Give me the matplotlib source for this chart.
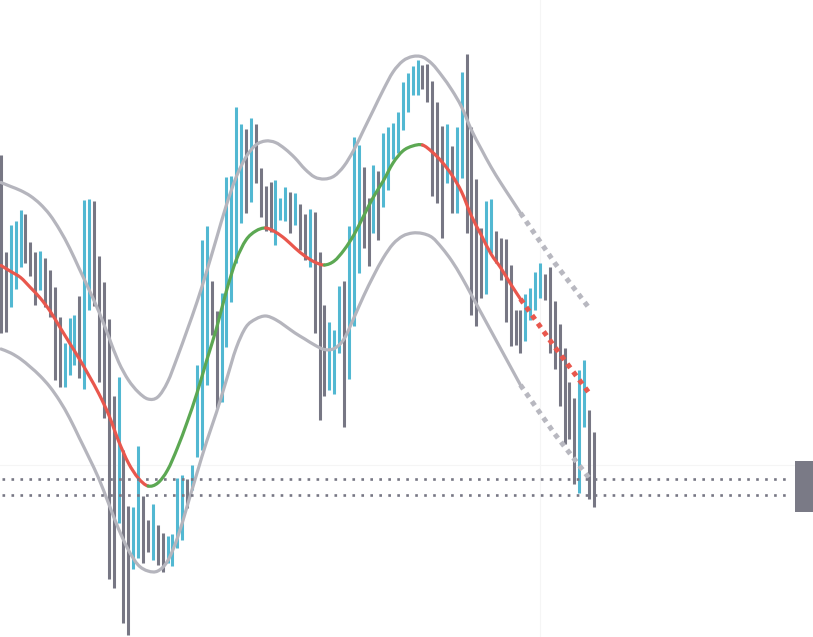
import numpy as np
import matplotlib.pyplot as plt
from matplotlib.patches import Rectangle, PathPatch
from matplotlib.path import Path

# =====================================================
# DATA (price bars)
# =====================================================

bar_high = [
    154.5, 144.8, 147.5, 147.9, 149.0, 148.6, 145.8, 144.8, 144.9, 144.2,
    143.0, 141.3, 138.3, 135.7, 138.2, 138.5, 140.4, 150.0, 150.1, 149.9,
    144.4, 141.8, 138.1, 130.4, 132.3, 125.0, 119.4, 119.3, 125.4, 120.4,
    118.0, 119.6, 117.5, 116.7, 116.4, 116.6, 122.2, 122.5, 122.1, 123.5,
    133.5, 146.0, 147.4, 141.9, 138.9, 140.7, 152.3, 152.4, 159.3, 157.6,
    157.1, 158.2, 157.6, 153.2, 151.4, 151.8, 152.0, 150.2, 151.3, 150.8,
    150.7, 149.6, 148.6, 149.1, 148.8, 144.8, 139.5, 137.8, 137.0, 141.4,
    141.9, 147.4, 156.3, 155.5, 153.3, 150.2, 153.5, 152.9, 156.7, 157.3,
    157.7, 158.8, 161.8, 162.7, 163.4, 164.0, 163.5, 163.6, 161.9, 159.8,
    157.4, 157.6, 155.4, 157.3, 162.8, 164.6, 157.3, 152.1, 147.2, 149.9,
    150.1, 146.9, 146.2, 146.1, 143.5, 139.0, 139.0, 140.6, 141.2, 142.8,
    143.7, 142.6, 143.3, 139.9, 137.6, 135.2, 131.8, 130.2, 133.0, 134.0,
    129.0, 126.8,
]

bar_low = [
    136.7, 136.8, 139.3, 141.1, 143.3, 143.7, 142.4, 139.5, 141.0, 139.3,
    138.3, 132.0, 131.3, 131.3, 132.5, 133.5, 132.2, 131.1, 139.0, 139.4,
    131.8, 128.2, 112.1, 111.2, 117.7, 107.7, 106.5, 113.1, 114.2, 113.7,
    114.8, 114.0, 113.5, 112.8, 113.7, 113.4, 115.2, 116.0, 119.2, 121.0,
    124.3, 125.0, 131.5, 136.5, 129.2, 129.8, 135.3, 139.8, 143.7, 147.7,
    148.7, 149.8, 151.7, 148.3, 146.9, 146.8, 145.5, 148.0, 147.9, 146.7,
    147.5, 145.0, 144.0, 143.3, 136.7, 128.0, 130.4, 131.0, 130.6, 134.7,
    127.3, 132.1, 137.4, 142.7, 145.2, 143.4, 146.7, 146.0, 149.3, 151.0,
    154.1, 154.7, 157.0, 158.8, 160.5, 160.5, 161.1, 159.8, 150.4, 149.7,
    146.2, 151.7, 148.7, 148.7, 152.2, 146.7, 138.5, 137.4, 140.2, 140.6,
    144.7, 143.7, 142.0, 137.8, 135.4, 135.5, 134.7, 135.9, 138.0, 139.0,
    140.2, 140.0, 134.7, 133.1, 129.4, 125.6, 126.1, 121.6, 120.7, 127.3,
    120.1, 119.3,
]

# T = up bar (teal), G = down bar (grey)
bar_dir = (
    "GGTTTGGGTG" "GGGTTTGTTG" "GGGGTGGTTG" "GTGGTTTTGT" "TTTGGTTTTT"
    "GTGGGGTTTG" "TGGTGGGTTT" "GTTTGGTGTT" "TTTTTTGGGG" "GTGTTGGGGT"
    "TGGGGGGTTT" "TGGGGGGGTT" "GG"
)

# =====================================================
# DATA (smoothed line + envelope, every 2nd bar)
# =====================================================

curve_idx = list(range(0, 107, 2))

mid_line = [
    143.45, 142.85, 142.25, 141.25, 140.2, 138.9, 137.3, 135.7, 134.1, 132.4,
    130.6, 128.5, 125.9, 123.7, 122.2, 121.4, 121.7, 123.0, 125.2, 127.8,
    130.7, 134.0, 137.2, 140.9, 144.0, 146.0, 146.9, 147.2, 146.8, 146.1,
    145.2, 144.4, 143.8, 143.5, 143.9, 145.0, 146.5, 148.4, 150.3, 151.9,
    153.7, 154.9, 155.4, 155.5, 154.8, 153.8, 152.5, 150.8, 148.4, 146.5,
    144.6, 143.2, 141.6, 140.1,
]

upper_band = [
    151.75, 151.35, 150.95, 150.4, 149.6, 148.5, 147.0, 145.2, 143.1, 141.0,
    138.8, 136.3, 133.8, 132.0, 130.8, 130.1, 130.3, 131.8, 134.3, 137.0,
    139.8, 142.9, 146.2, 149.5, 152.3, 154.3, 155.5, 155.9, 155.75, 155.1,
    154.2, 153.1, 152.3, 152.1, 152.4, 153.4, 155.0, 157.0, 159.0, 161.0,
    162.8, 163.9, 164.35, 164.3, 163.6, 162.4, 161.0, 159.3, 157.0, 155.1,
    153.3, 151.7, 150.2, 148.7,
]

lower_band = [
    135.1, 134.7, 134.1, 133.3, 132.4, 131.3, 129.9, 128.2, 126.2, 124.2,
    122.1, 119.6, 117.1, 115.0, 113.5, 112.9, 112.9, 113.9, 116.2, 119.4,
    122.7, 125.9, 128.8, 132.0, 135.2, 137.3, 138.1, 138.4, 138.05, 137.4,
    136.7, 136.1, 135.5, 135.05, 135.15, 136.1, 138.2, 140.4, 142.4, 144.2,
    145.6, 146.4, 146.7, 146.65, 146.25, 145.2, 143.9, 142.3, 140.5, 138.7,
    136.9, 135.1, 133.3, 131.5,
]

# projection (dotted part)
proj_idx = [106, 113, 120]
proj_mid = [140.1, 135.3, 130.7]
proj_upper = [148.7, 143.7, 139.2]
proj_lower = [131.5, 126.6, 122.2]

# horizontal levels + last price tag
levels = [122.1, 120.5]
tag_low, tag_high = 118.8, 123.9

# =====================================================
# STYLE
# =====================================================

TEAL = "#52b8d2"
GREY = "#777784"
BAND = "#b5b5bd"
RED = "#e9574d"
GREEN = "#5ca853"


def smooth_path(xs, ys, start=0, stop=None):
    # catmull-rom through the points, drawn as cubic bezier segments
    pts = np.column_stack([xs, ys]).astype(float)
    n = len(pts)
    if stop is None:
        stop = n - 1
    verts = [pts[start]]
    codes = [Path.MOVETO]
    for i in range(start, stop):
        p0 = pts[max(i - 1, 0)]
        p1 = pts[i]
        p2 = pts[i + 1]
        p3 = pts[min(i + 2, n - 1)]
        verts += [p1 + (p2 - p0) / 6, p2 - (p3 - p1) / 6, p2]
        codes += [Path.CURVE4] * 3
    return Path(verts, codes)


def draw_smooth(ax, xs, ys, color, start=0, stop=None, zorder=3):
    patch = PathPatch(smooth_path(xs, ys, start, stop), fill=False,
                      edgecolor=color, linewidth=2.3, capstyle="round",
                      joinstyle="round", zorder=zorder)
    ax.add_patch(patch)


fig = plt.figure(figsize=(8.13, 6.37), dpi=100)
ax = fig.add_axes([0, 0, 1, 1])
ax.set_xlim(-0.2, 165.7)
ax.set_ylim(106.3, 170.0)
ax.axis("off")

# -------------------------------------------------
# faint grid
# -------------------------------------------------
ax.axhline(123.5, color="#f5f5f5", linewidth=0.8, zorder=0)
ax.axvline(110, color="#f5f5f5", linewidth=0.8, zorder=0)

# -------------------------------------------------
# Price bars
# -------------------------------------------------
x = np.arange(len(bar_high))
colors = [TEAL if d == "T" else GREY for d in bar_dir]
ax.vlines(x, bar_low, bar_high, colors=colors, linewidth=2.2, zorder=2)

# -------------------------------------------------
# Envelope
# -------------------------------------------------
draw_smooth(ax, curve_idx, upper_band, BAND)
draw_smooth(ax, curve_idx, lower_band, BAND)

# -------------------------------------------------
# Mid line, red when falling, green when rising
# -------------------------------------------------
mid = np.array(mid_line)
rising = np.diff(mid) > 0
start = 0
for i in range(1, len(rising) + 1):
    if i == len(rising) or rising[i] != rising[start]:
        col = GREEN if rising[start] else RED
        draw_smooth(ax, curve_idx, mid, col, start, i, zorder=4)
        start = i

# -------------------------------------------------
# Projection (dotted)
# -------------------------------------------------
dot = dict(linewidth=3.6, linestyle=(0, (1, 1)), dash_capstyle="butt")
ax.plot(proj_idx, proj_upper, color="#b8b8c0", zorder=3, **dot)
ax.plot(proj_idx, proj_lower, color="#b8b8c0", zorder=3, **dot)
ax.plot(proj_idx, proj_mid, color=RED, zorder=4, **dot)

# -------------------------------------------------
# Levels
# -------------------------------------------------
ax.hlines(levels, 0.3, 160.7, colors=GREY, linewidth=1.9,
          linestyles=[(0, (1, 2.4))], zorder=5)

ax.add_patch(Rectangle((0.978, tag_low), 0.03, tag_high - tag_low,
                       transform=ax.get_yaxis_transform(),
                       facecolor="#7a7a86", edgecolor="none", zorder=6))

fig.savefig("out.png", dpi=100)
